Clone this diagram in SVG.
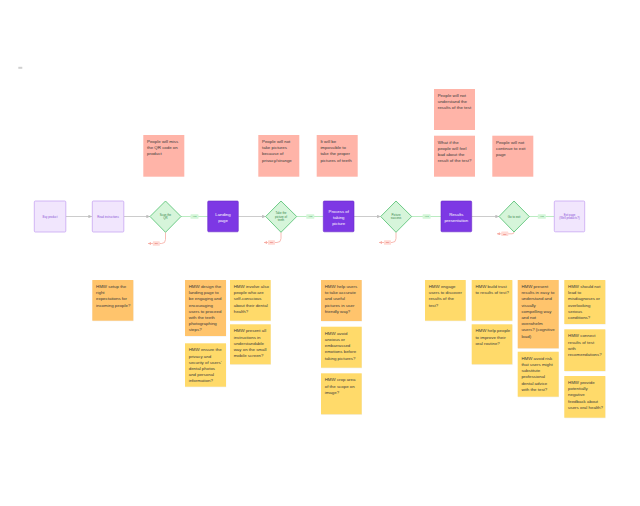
<svg xmlns="http://www.w3.org/2000/svg" width="640" height="506" viewBox="0 0 640 506">
<style>
  text { font-family: "Liberation Sans", Arial, sans-serif; }
  .lp { fill: #F1E6FD; stroke: #C8A6F3; stroke-width: 0.8; }
  .dp { fill: #7D38E4; stroke: #6A2AC8; stroke-width: 0.6; }
  .dm { fill: #D6F5DA; stroke: #4DBE6C; stroke-width: 0.8; }
  .red { fill: #FFB4A8; }
  .org { fill: #FFC46C; }
  .yel { fill: #FFDA6A; }
  .shadow { fill: #000; opacity: 0.06; }
  .nt { font-size: 4.4px; fill: #3A3A3A; }
  .lpt { font-size: 2.8px; fill: #8A52D6; text-anchor: middle; }
  .dpt { font-size: 4.3px; fill: #FFFFFF; text-anchor: middle; }
  .dmt { font-size: 2.9px; fill: #2F7F45; text-anchor: middle; }
  .grey { stroke: #C6C6C6; stroke-width: 0.9; fill: none; }
  .green { stroke: #A9E6B2; stroke-width: 0.8; fill: none; }
  .redl { stroke: #F6ABA2; stroke-width: 0.8; fill: none; }
  .yesb { fill: #D3F6D8; }
  .yest { font-size: 2.5px; fill: #3C9A55; text-anchor: middle; }
  .nob { fill: #FFDAD5; }
  .not { font-size: 2.5px; fill: #D9493A; text-anchor: middle; }
</style>
<defs>
  <marker id="ag" viewBox="0 0 6 6" refX="6" refY="3" markerWidth="4" markerHeight="4" orient="auto">
    <path d="M0,0 L6,3 L0,6 z" fill="#BDBDBD"/>
  </marker>
  <marker id="ar" viewBox="0 0 6 6" refX="6" refY="3" markerWidth="4" markerHeight="4" orient="auto">
    <path d="M0,0 L6,3 L0,6 z" fill="#F6ABA2"/>
  </marker>
</defs>
<rect width="640" height="506" fill="#FFFFFF"/>
<rect x="18.3" y="66.8" width="4" height="2" fill="#D0D0D0"/>

<g id="connectors">
  <line class="grey" x1="66" y1="216.5" x2="92" y2="216.5" marker-end="url(#ag)"/>
  <line class="grey" x1="124" y1="216.5" x2="150" y2="216.5" marker-end="url(#ag)"/>
  <line class="grey" x1="238.3" y1="216.5" x2="265.7" y2="216.5" marker-end="url(#ag)"/>
  <line class="grey" x1="354" y1="216.5" x2="380.7" y2="216.5" marker-end="url(#ag)"/>
  <line class="grey" x1="471.7" y1="216.5" x2="499" y2="216.5" marker-end="url(#ag)"/>

  <line class="green" x1="181" y1="216.5" x2="207.7" y2="216.5"/>
  <line class="green" x1="296.7" y1="216.5" x2="323.3" y2="216.5"/>
  <line class="green" x1="411.7" y1="216.5" x2="441" y2="216.5"/>
  <line class="green" x1="529.3" y1="216.5" x2="554.3" y2="216.5"/>

  <path class="redl" d="M165.5,232.3 L165.5,239.5 Q165.5,243.5 161.5,243.5 L148,243.5" marker-end="url(#ar)"/>
  <path class="redl" d="M281,232.3 L281,238.5 Q281,242.5 277,242.5 L264,242.5" marker-end="url(#ar)"/>
  <path class="redl" d="M396,232.3 L396,238.5 Q396,242.5 392,242.5 L379,242.5" marker-end="url(#ar)"/>
  <path class="redl" d="M514,232 Q514,233.8 512,233.8 L497,233.8" marker-end="url(#ar)"/>

  <g id="yes-labels">
    <rect class="yesb" x="190.5" y="214.3" width="8" height="4.5" rx="0.6"/><text class="yest" x="194.5" y="217.4">Yes</text>
    <rect class="yesb" x="306.3" y="214.3" width="8" height="4.5" rx="0.6"/><text class="yest" x="310.3" y="217.4">Yes</text>
    <rect class="yesb" x="422.6" y="214.3" width="8" height="4.5" rx="0.6"/><text class="yest" x="426.6" y="217.4">Yes</text>
    <rect class="yesb" x="537.8" y="214.3" width="8" height="4.5" rx="0.6"/><text class="yest" x="541.8" y="217.4">Yes</text>
  </g>
  <g id="no-labels">
    <rect class="nob" x="152.8" y="241.3" width="7" height="4.5" rx="0.6"/><text class="not" x="156.3" y="244.4">No</text>
    <rect class="nob" x="268" y="240.3" width="7" height="4.5" rx="0.6"/><text class="not" x="271.5" y="243.4">No</text>
    <rect class="nob" x="384" y="240.3" width="7" height="4.5" rx="0.6"/><text class="not" x="387.5" y="243.4">No</text>
    <rect class="nob" x="501.3" y="231.6" width="7" height="4.5" rx="0.6"/><text class="not" x="504.8" y="234.7">No</text>
  </g>
</g>

<g id="buy-product"><rect class="lp" x="34.3" y="201" width="31.5" height="31" rx="1"/><text class="lpt" x="50" y="217.5">Buy product</text></g>
<g id="read-instructions"><rect class="lp" x="92.3" y="201" width="31.5" height="31" rx="1"/><text class="lpt" x="108" y="217.5">Read instructions</text></g>
<g id="scan-qr"><path class="dm" d="M165.5,201 L181,216.5 L165.5,232.3 L150,216.5 z"/><text class="dmt" x="165.5" y="215.8">Scan the<tspan x="165.5" dy="3.6">QR</tspan></text></g>
<g id="landing-page"><rect class="dp" x="207.7" y="201" width="30.6" height="30.8" rx="1"/><text class="dpt" x="223" y="215.8">Landing<tspan x="223" dy="6.3">page</tspan></text></g>
<g id="take-picture"><path class="dm" d="M281,201 L296.7,216.5 L281,232.3 L265.7,216.5 z"/><text class="dmt" x="281" y="214.2">Take the<tspan x="281" dy="3.5">picture of</tspan><tspan x="281" dy="3.5">teeth</tspan></text></g>
<g id="process-taking-picture"><rect class="dp" x="323.3" y="201" width="30.7" height="30.8" rx="1"/><text class="dpt" x="338.7" y="212.6">Process of<tspan x="338.7" dy="6.3">taking</tspan><tspan x="338.7" dy="6.3">picture</tspan></text></g>
<g id="picture-success"><path class="dm" d="M396,201 L411.7,216.5 L396,232.3 L380.7,216.5 z"/><text class="dmt" x="396" y="215.8">Picture<tspan x="396" dy="3.6">success</tspan></text></g>
<g id="results-presentation"><rect class="dp" x="441" y="201" width="30.7" height="30.8" rx="1"/><text class="dpt" x="456.3" y="215.8">Results<tspan x="456.3" dy="6.3">presentation</tspan></text></g>
<g id="go-to-exit"><path class="dm" d="M514,201 L529.3,216.5 L514,232 L499,216.5 z"/><text class="dmt" x="514" y="217.5">Go to exit</text></g>
<g id="exit-page"><rect class="lp" x="554.3" y="201" width="30.4" height="30.8" rx="1"/><text class="lpt" x="569.5" y="215.8">Exit page<tspan x="569.5" dy="3.6">(Well products?)</tspan></text></g>

<g id="risk-notes">
  <g id="r1"><rect class="red" x="143.3" y="135" width="41" height="41.7"/><text class="nt" x="147" y="143">People will miss<tspan x="147" dy="6.2">the QR code on</tspan><tspan x="147" dy="6.2">product</tspan></text></g>
  <g id="r2"><rect class="red" x="258.3" y="135" width="41" height="41.7"/><text class="nt" x="262" y="143">People will not<tspan x="262" dy="6.2">take pictures</tspan><tspan x="262" dy="6.2">because of</tspan><tspan x="262" dy="6.2">privacy/strange</tspan></text></g>
  <g id="r3"><rect class="red" x="316.7" y="135" width="41" height="41.7"/><text class="nt" x="320.4" y="143">It will be<tspan x="320.4" dy="6.2">impossible to</tspan><tspan x="320.4" dy="6.2">take the proper</tspan><tspan x="320.4" dy="6.2">pictures of teeth</tspan></text></g>
  <g id="r4"><rect class="red" x="434" y="89" width="41" height="41"/><text class="nt" x="437.7" y="97">People will not<tspan x="437.7" dy="6.2">understand the</tspan><tspan x="437.7" dy="6.2">results of the test</tspan></text></g>
  <g id="r5"><rect class="red" x="434" y="135.7" width="41" height="41"/><text class="nt" x="437.7" y="143.7">What if the<tspan x="437.7" dy="6.2">people will feel</tspan><tspan x="437.7" dy="6.2">bad about the</tspan><tspan x="437.7" dy="6.2">result of the test?</tspan></text></g>
  <g id="r6"><rect class="red" x="492.3" y="135.7" width="41" height="41"/><text class="nt" x="496" y="143.7">People will not<tspan x="496" dy="6.2">continue to exit</tspan><tspan x="496" dy="6.2">page</tspan></text></g>
</g>

<g id="hmw-notes">
  <g id="h1"><rect class="shadow" x="92.6" y="280.6" width="41" height="40.7"/><rect class="org" x="92.3" y="280" width="41" height="40.7"/><text class="nt" x="96" y="288">HMW setup the<tspan x="96" dy="6.2">right</tspan><tspan x="96" dy="6.2">expectations for</tspan><tspan x="96" dy="6.2">incoming people?</tspan></text></g>
  <g id="h2"><rect class="shadow" x="185.3" y="280.6" width="41" height="56"/><rect class="org" x="185" y="280" width="41" height="56"/><text class="nt" x="188.7" y="288">HMW design the<tspan x="188.7" dy="6.2">landing page to</tspan><tspan x="188.7" dy="6.2">be engaging and</tspan><tspan x="188.7" dy="6.2">encouraging</tspan><tspan x="188.7" dy="6.2">users to proceed</tspan><tspan x="188.7" dy="6.2">with the teeth</tspan><tspan x="188.7" dy="6.2">photographing</tspan><tspan x="188.7" dy="6.2">steps?</tspan></text></g>
  <g id="h3"><rect class="shadow" x="185.3" y="343.9" width="41" height="43.4"/><rect class="yel" x="185" y="343.3" width="41" height="43.4"/><text class="nt" x="188.7" y="351.3">HMW ensure the<tspan x="188.7" dy="6.2">privacy and</tspan><tspan x="188.7" dy="6.2">security of users'</tspan><tspan x="188.7" dy="6.2">dental photos</tspan><tspan x="188.7" dy="6.2">and personal</tspan><tspan x="188.7" dy="6.2">information?</tspan></text></g>
  <g id="h4"><rect class="shadow" x="230.3" y="280.6" width="40.7" height="40.7"/><rect class="yel" x="230" y="280" width="40.7" height="40.7"/><text class="nt" x="233.7" y="288">HMW involve also<tspan x="233.7" dy="6.2">people who are</tspan><tspan x="233.7" dy="6.2">self-conscious</tspan><tspan x="233.7" dy="6.2">about their dental</tspan><tspan x="233.7" dy="6.2">health?</tspan></text></g>
  <g id="h5"><rect class="shadow" x="230.3" y="324.9" width="40.7" height="40"/><rect class="yel" x="230" y="324.3" width="40.7" height="40"/><text class="nt" x="233.7" y="332.3">HMW present all<tspan x="233.7" dy="6.2">instructions in</tspan><tspan x="233.7" dy="6.2">understandable</tspan><tspan x="233.7" dy="6.2">way on the small</tspan><tspan x="233.7" dy="6.2">mobile screen?</tspan></text></g>
  <g id="h6"><rect class="shadow" x="321.3" y="280.6" width="40.7" height="41"/><rect class="org" x="321" y="280" width="40.7" height="41"/><text class="nt" x="324.7" y="288">HMW help users<tspan x="324.7" dy="6.2">to take accurate</tspan><tspan x="324.7" dy="6.2">and useful</tspan><tspan x="324.7" dy="6.2">pictures in user</tspan><tspan x="324.7" dy="6.2">friendly way?</tspan></text></g>
  <g id="h7"><rect class="shadow" x="321.3" y="327.3" width="40.7" height="41"/><rect class="yel" x="321" y="326.7" width="40.7" height="41"/><text class="nt" x="324.7" y="334.7">HMW avoid<tspan x="324.7" dy="6.2">anxious or</tspan><tspan x="324.7" dy="6.2">embarrassed</tspan><tspan x="324.7" dy="6.2">emotions before</tspan><tspan x="324.7" dy="6.2">taking pictures?</tspan></text></g>
  <g id="h8"><rect class="shadow" x="321.3" y="373.9" width="40.7" height="41"/><rect class="yel" x="321" y="373.3" width="40.7" height="41"/><text class="nt" x="324.7" y="381.3">HMW crop area<tspan x="324.7" dy="6.2">of the scope on</tspan><tspan x="324.7" dy="6.2">image?</tspan></text></g>
  <g id="h9"><rect class="shadow" x="425.3" y="280.6" width="40.7" height="40.7"/><rect class="yel" x="425" y="280" width="40.7" height="40.7"/><text class="nt" x="428.7" y="288">HMW engage<tspan x="428.7" dy="6.2">users to discover</tspan><tspan x="428.7" dy="6.2">results of the</tspan><tspan x="428.7" dy="6.2">test?</tspan></text></g>
  <g id="h10"><rect class="shadow" x="472" y="280.6" width="40.6" height="40.7"/><rect class="yel" x="471.7" y="280" width="40.6" height="40.7"/><text class="nt" x="475.4" y="288">HMW build trust<tspan x="475.4" dy="6.2">to results of test?</tspan></text></g>
  <g id="h11"><rect class="shadow" x="472" y="324.9" width="40.6" height="40"/><rect class="yel" x="471.7" y="324.3" width="40.6" height="40"/><text class="nt" x="475.4" y="332.3">HMW help people<tspan x="475.4" dy="6.2">to improve their</tspan><tspan x="475.4" dy="6.2">oral routine?</tspan></text></g>
  <g id="h12"><rect class="shadow" x="518" y="280.6" width="41" height="68.3"/><rect class="org" x="517.7" y="280" width="41" height="68.3"/><text class="nt" x="521.4" y="288">HMW present<tspan x="521.4" dy="6.2">results in easy to</tspan><tspan x="521.4" dy="6.2">understand and</tspan><tspan x="521.4" dy="6.2">visually</tspan><tspan x="521.4" dy="6.2">compelling way</tspan><tspan x="521.4" dy="6.2">and not</tspan><tspan x="521.4" dy="6.2">overwhelm</tspan><tspan x="521.4" dy="6.2">users? (cognitive</tspan><tspan x="521.4" dy="6.2">load)</tspan></text></g>
  <g id="h13"><rect class="shadow" x="518" y="352.3" width="41" height="45"/><rect class="yel" x="517.7" y="351.7" width="41" height="45"/><text class="nt" x="521.4" y="359.7">HMW avoid risk<tspan x="521.4" dy="6.2">that users might</tspan><tspan x="521.4" dy="6.2">substitute</tspan><tspan x="521.4" dy="6.2">professional</tspan><tspan x="521.4" dy="6.2">dental advice</tspan><tspan x="521.4" dy="6.2">with the test?</tspan></text></g>
  <g id="h14"><rect class="shadow" x="564.6" y="280.6" width="41" height="44"/><rect class="yel" x="564.3" y="280" width="41" height="44"/><text class="nt" x="568" y="288">HMW should not<tspan x="568" dy="6.2">lead to</tspan><tspan x="568" dy="6.2">misdiagnoses or</tspan><tspan x="568" dy="6.2">overlooking</tspan><tspan x="568" dy="6.2">serious</tspan><tspan x="568" dy="6.2">conditions?</tspan></text></g>
  <g id="h15"><rect class="shadow" x="564.6" y="329.9" width="41" height="41.7"/><rect class="yel" x="564.3" y="329.3" width="41" height="41.7"/><text class="nt" x="568" y="337.3">HMW connect<tspan x="568" dy="6.2">results of test</tspan><tspan x="568" dy="6.2">with</tspan><tspan x="568" dy="6.2">recomendations?</tspan></text></g>
  <g id="h16"><rect class="shadow" x="564.6" y="376.6" width="41" height="41.7"/><rect class="yel" x="564.3" y="376" width="41" height="41.7"/><text class="nt" x="568" y="384">HMW provide<tspan x="568" dy="6.2">potentially</tspan><tspan x="568" dy="6.2">negative</tspan><tspan x="568" dy="6.2">feedback about</tspan><tspan x="568" dy="6.2">users oral health?</tspan></text></g>
</g>
</svg>
